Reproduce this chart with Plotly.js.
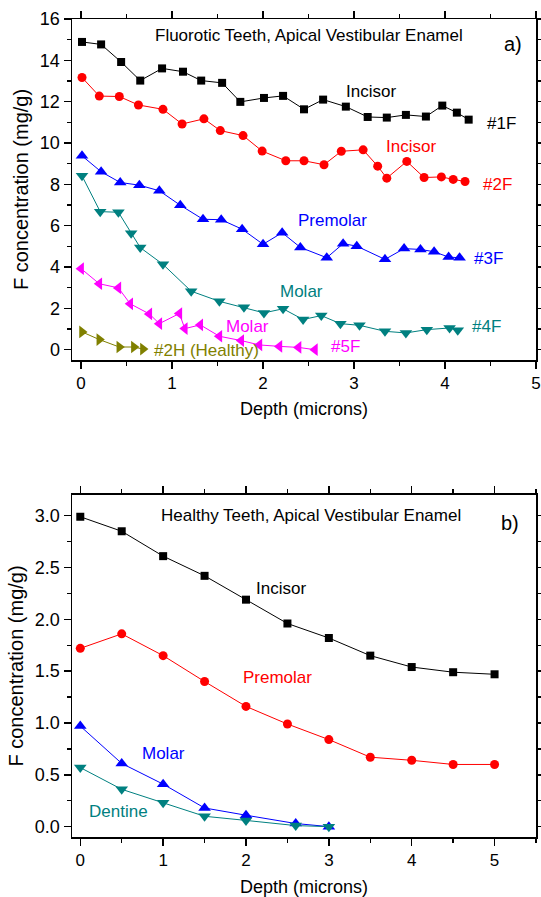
<!DOCTYPE html>
<html>
<head>
<meta charset="utf-8">
<script src="https://cdn.plot.ly/plotly-3.0.1.min.js"></script>
<style>html,body{margin:0;padding:0;background:#fff;}#chart{width:541px;height:897px;}</style>
</head>
<body>
<div id="chart"></div>
<script>
// ---- Panel a) Fluorotic teeth ----
const f1_x = [0.01,0.22,0.44,0.65,0.89,1.12,1.32,1.55,1.75,2.01,2.22,2.45,2.66,2.91,3.15,3.36,3.57,3.79,3.97,4.13,4.26];
const f1_y = [14.89,14.77,13.92,13.02,13.61,13.45,13.02,12.91,11.99,12.18,12.28,11.63,12.10,11.76,11.26,11.23,11.36,11.28,11.81,11.47,11.13];

const f2_x = [0.01,0.20,0.42,0.63,0.90,1.11,1.35,1.53,1.78,1.99,2.25,2.45,2.67,2.86,3.10,3.26,3.36,3.58,3.77,3.96,4.09,4.22];
const f2_y = [13.17,12.27,12.25,11.84,11.63,10.92,11.17,10.60,10.36,9.61,9.14,9.14,8.95,9.60,9.67,8.88,8.30,9.11,8.33,8.36,8.24,8.14];

const f3_x = [0.01,0.22,0.43,0.64,0.86,1.09,1.34,1.54,1.77,2.00,2.21,2.41,2.70,2.88,3.03,3.34,3.55,3.73,3.88,4.04,4.16];
const f3_y = [9.38,8.61,8.09,7.96,7.69,6.99,6.31,6.29,5.83,5.10,5.66,4.95,4.45,5.13,5.01,4.37,4.89,4.85,4.74,4.48,4.45];

const f4_x = [0.01,0.21,0.41,0.55,0.65,0.90,1.21,1.52,1.79,2.01,2.22,2.44,2.64,2.85,3.06,3.34,3.57,3.80,4.05,4.14];
const f4_y = [8.41,6.68,6.65,5.63,4.94,4.13,2.83,2.34,2.05,1.78,1.98,1.46,1.65,1.26,1.18,0.89,0.81,0.97,1.05,0.94];

const f5_x = [0.00,0.20,0.41,0.54,0.75,0.86,1.08,1.14,1.31,1.52,1.76,1.96,2.18,2.39,2.57];
const f5_y = [3.92,3.19,2.99,2.22,1.73,1.26,1.75,1.02,1.20,0.65,0.44,0.23,0.16,0.11,0.00];

const h2_x = [0.01,0.20,0.42,0.58,0.68];
const h2_y = [0.86,0.49,0.13,0.13,0.03];

// ---- Panel b) Healthy teeth ----
const depth_b = [0,0.5,1,1.5,2,2.5,3,3.5,4,4.5,5];
const incisor_b = [2.99,2.85,2.61,2.42,2.19,1.96,1.82,1.65,1.54,1.49,1.47];
const premolar_b = [1.72,1.86,1.65,1.40,1.16,0.99,0.84,0.67,0.64,0.60,0.60];
const depth_m = [0,0.5,1,1.5,2,2.6,3];
const molar_b = [0.97,0.61,0.41,0.18,0.11,0.03,0.00];
const dentine_b = [0.57,0.36,0.23,0.10,0.06,0.01,0.00];

const titleA = "Fluorotic Teeth, Apical Vestibular Enamel";
const titleB = "Healthy Teeth, Apical Vestibular Enamel";
const xTitle = "Depth (microns)";
const yTitle = "F concentration (mg/g)";

const FONT = "Liberation Sans, Arial, sans-serif";
const BLACK = "#000000", RED = "#FF0000", BLUE = "#0000FF", TEAL = "#008080", MAG = "#FF00FF", OLIVE = "#808000";

function tr(x, y, color, symbol, size, xa, ya) {
  return {x: x, y: y, type: "scatter", mode: "lines+markers", xaxis: xa, yaxis: ya,
    line: {color: color, width: 1}, marker: {color: color, symbol: symbol, size: size}, showlegend: false, cliponaxis: false};
}

const data = [
  tr(f1_x, f1_y, BLACK, "square", 8, "x", "y"),
  tr(f2_x, f2_y, RED, "circle", 9, "x", "y"),
  tr(f3_x, f3_y, BLUE, "triangle-up", 11, "x", "y"),
  tr(f4_x, f4_y, TEAL, "triangle-down", 11, "x", "y"),
  tr(f5_x, f5_y, MAG, "triangle-left", 11, "x", "y"),
  tr(h2_x, h2_y, OLIVE, "triangle-right", 11, "x", "y"),
  tr(depth_b, incisor_b, BLACK, "square", 8, "x2", "y2"),
  tr(depth_b, premolar_b, RED, "circle", 9, "x2", "y2"),
  tr(depth_m, molar_b, BLUE, "triangle-up", 11, "x2", "y2"),
  tr(depth_m, dentine_b, TEAL, "triangle-down", 11, "x2", "y2")
];

function axis(extra) {
  return Object.assign({
    showline: true, linecolor: "#000", linewidth: 1.5, mirror: "ticks",
    ticks: "outside", ticklen: 7, tickwidth: 1.5, tickcolor: "#000",
    showgrid: false, zeroline: false,
    tickfont: {family: FONT, size: 18, color: "#000"}
  }, extra);
}

function ann(text, x, y, color, xref, yref, size) {
  return {text: text, x: x, y: y, xref: xref, yref: yref, showarrow: false,
    xanchor: "center", yanchor: "middle", font: {family: FONT, size: size || 17, color: color}};
}

const minorX = {dtick: 0.5, ticklen: 4, ticks: "outside", tickcolor: "#000", tickwidth: 1.5};
const xTickFont = {family: FONT, size: 17, color: "#000"};

const layout = {
  width: 541, height: 897,
  margin: {l: 72, r: 5, t: 19, b: 60},
  paper_bgcolor: "#fff", plot_bgcolor: "#fff",
  showlegend: false,
  xaxis: axis({domain: [0, 1], anchor: "y", range: [-0.1, 5], dtick: 1, tick0: 0, minor: minorX, tickfont: xTickFont,
    title: {text: xTitle, font: {family: FONT, size: 18, color: "#000"}, standoff: 10}}),
  yaxis: axis({domain: [0.5831, 1], anchor: "x", range: [-0.5, 16], dtick: 2, tick0: 0,
    minor: {dtick: 1, ticklen: 4, ticks: "outside", tickcolor: "#000", tickwidth: 1.5},
    title: {text: yTitle, font: {family: FONT, size: 20, color: "#000"}, standoff: 6}}),
  xaxis2: axis({domain: [0, 1], anchor: "y2", range: [-0.1, 5.5], dtick: 1, tick0: 0, minor: minorX, tickfont: xTickFont,
    title: {text: xTitle, font: {family: FONT, size: 18, color: "#000"}, standoff: 12}}),
  yaxis2: axis({domain: [0, 0.4181], anchor: "x2", range: [-0.1, 3.2], dtick: 0.5, tick0: 0, tickformat: ".1f",
    minor: {dtick: 0.25, ticklen: 4, ticks: "outside", tickcolor: "#000", tickwidth: 1.5},
    title: {text: yTitle, font: {family: FONT, size: 20, color: "#000"}, standoff: 6}}),
  annotations: [
    ann(titleA, 2.50, 15.21, BLACK, "x", "y"),
    ann("a)", 4.75, 14.81, BLACK, "x", "y", 20),
    ann("Incisor", 3.19, 12.51, BLACK, "x", "y"),
    ann("#1F", 4.62, 10.92, BLACK, "x", "y"),
    ann("Incisor", 3.63, 9.82, RED, "x", "y"),
    ann("#2F", 4.58, 8.01, RED, "x", "y"),
    ann("Premolar", 2.76, 6.23, BLUE, "x", "y"),
    ann("#3F", 4.48, 4.42, BLUE, "x", "y"),
    ann("Molar", 2.42, 2.83, TEAL, "x", "y"),
    ann("#4F", 4.46, 1.13, TEAL, "x", "y"),
    ann("Molar", 1.83, 1.13, MAG, "x", "y"),
    ann("#5F", 2.91, 0.16, MAG, "x", "y"),
    ann("#2H (Healthy)", 1.38, -0.05, OLIVE, "x", "y"),
    ann(titleB, 2.79, 3.00, BLACK, "x2", "y2"),
    ann("b)", 5.19, 2.93, BLACK, "x2", "y2", 20),
    ann("Incisor", 2.42, 2.30, BLACK, "x2", "y2"),
    ann("Premolar", 2.38, 1.44, RED, "x2", "y2"),
    ann("Molar", 1.01, 0.71, BLUE, "x2", "y2"),
    ann("Dentine", 0.46, 0.15, TEAL, "x2", "y2")
  ]
};

Plotly.newPlot("chart", data, layout, {displayModeBar: false, staticPlot: true});
</script>
</body>
</html>
